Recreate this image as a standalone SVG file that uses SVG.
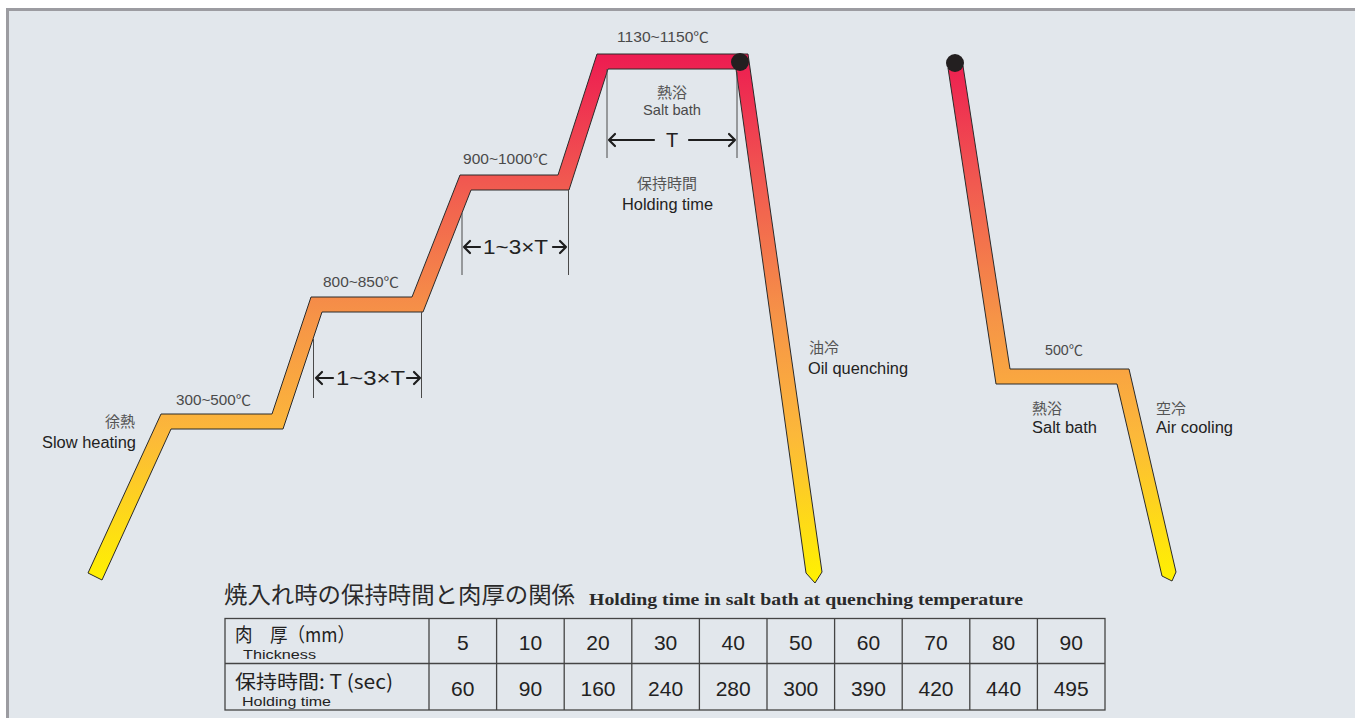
<svg xmlns="http://www.w3.org/2000/svg" width="1355" height="718" viewBox="0 0 1355 718">
<defs>
<linearGradient id="heat" gradientUnits="userSpaceOnUse" x1="0" y1="55" x2="0" y2="582">
<stop offset="0" stop-color="#ed1c51"/>
<stop offset="0.25" stop-color="#f15b50"/>
<stop offset="0.5" stop-color="#f69447"/>
<stop offset="0.72" stop-color="#fcb83a"/>
<stop offset="1" stop-color="#fff200"/>
</linearGradient>
<style>
.band{fill:url(#heat);stroke:#2b2b2b;stroke-width:1;stroke-linejoin:miter}
.dot{fill:#231f20}
.dim{stroke:#4a4a4a;stroke-width:1;fill:none}
.arr{stroke:#1e1e1e;stroke-width:2.2;fill:none;stroke-linecap:round;stroke-linejoin:round}
.t{font-family:"Liberation Sans","Noto Sans CJK JP","DejaVu Sans",sans-serif}
.temp{font-size:14px;fill:#4a4a4a}
.jp{font-family:"Noto Sans CJK JP","Liberation Sans",sans-serif;font-size:15px;fill:#555}
.en{font-size:16px;fill:#222}
.dimt{font-size:20px;fill:#222}
.cell{font-size:21px;fill:#222;text-anchor:middle}
.grid{stroke:#444;stroke-width:1.3;fill:none}
</style>
</defs>
<rect x="0" y="0" width="1355" height="718" fill="#ffffff"/>
<rect x="7.5" y="9.5" width="1400" height="800" fill="#e2e7ec" stroke="#9c9ca1" stroke-width="3"/>

<g id="quench-curve">
<polygon class="band" points="88,573 161,414 272,414 311,297 412,297 460,175 558,175 597,54 748,54 822,572 815,583 806,573 736,69 608,69 569,190 471,190 423,312 322,312 283,429 171,429 102,580"/>
<circle class="dot" cx="740" cy="62" r="9"/>
</g>

<g id="martemper-curve">
<polygon class="band" points="948,68 996,384 1117,384 1162,576 1172,581 1176,572 1129,369 1010,369 963,66"/>
<circle class="dot" cx="955" cy="63" r="9"/>
</g>

<g id="connectors">
<line class="dim" x1="313.5" y1="339" x2="313.5" y2="398"/>
<line class="dim" x1="421.5" y1="312" x2="421.5" y2="398"/>
<path class="arr" d="M333,378 H316 M322,372 L316,378 L322,384"/>
<path class="arr" d="M407,378 H420 M414,372 L420,378 L414,384"/>
<line class="dim" x1="462" y1="213" x2="462" y2="275"/>
<line class="dim" x1="568.5" y1="190" x2="568.5" y2="275"/>
<path class="arr" d="M480,247 H464 M470,241 L464,247 L470,253"/>
<path class="arr" d="M553,247 H566 M560,241 L566,247 L560,253"/>
<line class="dim" x1="607" y1="69" x2="607" y2="158"/>
<line class="dim" x1="737" y1="72" x2="737" y2="158"/>
<path class="arr" d="M654,140 H609 M615,134 L609,140 L615,146"/>
<path class="arr" d="M689,140 H735 M729,134 L735,140 L729,146"/>
</g>

<g id="labels">
<text class="t temp" x="176" y="405" textLength="75" lengthAdjust="spacingAndGlyphs">300~500℃</text>
<text class="t temp" x="323" y="287" textLength="76" lengthAdjust="spacingAndGlyphs">800~850℃</text>
<text class="t temp" x="463" y="164" textLength="85" lengthAdjust="spacingAndGlyphs">900~1000℃</text>
<text class="t temp" x="617" y="42" textLength="92" lengthAdjust="spacingAndGlyphs">1130~1150℃</text>
<text class="t temp" x="1045" y="355" textLength="38" lengthAdjust="spacingAndGlyphs">500℃</text>

<text class="t dimt" x="336" y="385" textLength="69" lengthAdjust="spacingAndGlyphs">1~3×T</text>
<text class="t dimt" x="483" y="254" textLength="65" lengthAdjust="spacingAndGlyphs">1~3×T</text>
<text class="t dimt" x="672" y="147" text-anchor="middle">T</text>

<text class="jp" x="105" y="427">徐熱</text>
<text class="t en" x="42" y="448" textLength="94" lengthAdjust="spacingAndGlyphs">Slow heating</text>

<text class="jp" x="657" y="98">熱浴</text>
<text class="t" x="643" y="115" font-size="14.5" fill="#4a4a4a" textLength="58" lengthAdjust="spacingAndGlyphs">Salt bath</text>
<text class="jp" x="637" y="189">保持時間</text>
<text class="t en" x="622" y="210" textLength="91" lengthAdjust="spacingAndGlyphs">Holding time</text>

<text class="jp" x="809" y="353">油冷</text>
<text class="t en" x="808" y="374" textLength="100" lengthAdjust="spacingAndGlyphs">Oil quenching</text>

<text class="jp" x="1032" y="414">熱浴</text>
<text class="t en" x="1032" y="433" textLength="65" lengthAdjust="spacingAndGlyphs">Salt bath</text>
<text class="jp" x="1156" y="414">空冷</text>
<text class="t en" x="1156" y="433" textLength="77" lengthAdjust="spacingAndGlyphs">Air cooling</text>
</g>

<g id="table-title">
<text x="224" y="603" font-family="Noto Sans CJK JP, sans-serif" font-size="23" fill="#2a2a2a" textLength="351" lengthAdjust="spacingAndGlyphs">焼入れ時の保持時間と肉厚の関係</text>
<text x="589" y="605" font-family="Liberation Serif, serif" font-weight="bold" font-size="16.5" fill="#2a2a2a" textLength="434" lengthAdjust="spacingAndGlyphs">Holding time in salt bath at quenching temperature</text>
</g>

<g id="table">
<rect class="grid" x="225" y="618.5" width="880" height="91.5"/>
<line class="grid" x1="225" y1="663.5" x2="1105" y2="663.5"/>
<path class="grid" d="M429,618.5V710 M496.6,618.5V710 M564.2,618.5V710 M631.8,618.5V710 M699.4,618.5V710 M767,618.5V710 M834.6,618.5V710 M902.2,618.5V710 M969.8,618.5V710 M1037.4,618.5V710"/>
<text x="235" y="642" font-family="Noto Sans CJK JP, sans-serif" font-size="19.5" fill="#222" textLength="120" lengthAdjust="spacingAndGlyphs">肉　厚（mm）</text>
<text class="t" x="243" y="659" font-size="12.5" fill="#222" textLength="73" lengthAdjust="spacingAndGlyphs">Thickness</text>
<text x="235" y="689" font-family="Noto Sans CJK JP, sans-serif" font-size="19.5" fill="#222" textLength="158" lengthAdjust="spacingAndGlyphs">保持時間: T (sec)</text>
<text class="t" x="242" y="706" font-size="12.5" fill="#222" textLength="89" lengthAdjust="spacingAndGlyphs">Holding time</text>
<g class="t">
<text class="cell" x="462.8" y="650">5</text>
<text class="cell" x="530.4" y="650">10</text>
<text class="cell" x="598" y="650">20</text>
<text class="cell" x="665.6" y="650">30</text>
<text class="cell" x="733.2" y="650">40</text>
<text class="cell" x="800.8" y="650">50</text>
<text class="cell" x="868.4" y="650">60</text>
<text class="cell" x="936" y="650">70</text>
<text class="cell" x="1003.6" y="650">80</text>
<text class="cell" x="1071.2" y="650">90</text>
<text class="cell" x="462.8" y="696">60</text>
<text class="cell" x="530.4" y="696">90</text>
<text class="cell" x="598" y="696">160</text>
<text class="cell" x="665.6" y="696">240</text>
<text class="cell" x="733.2" y="696">280</text>
<text class="cell" x="800.8" y="696">300</text>
<text class="cell" x="868.4" y="696">390</text>
<text class="cell" x="936" y="696">420</text>
<text class="cell" x="1003.6" y="696">440</text>
<text class="cell" x="1071.2" y="696">495</text>
</g>
</g>
</svg>
